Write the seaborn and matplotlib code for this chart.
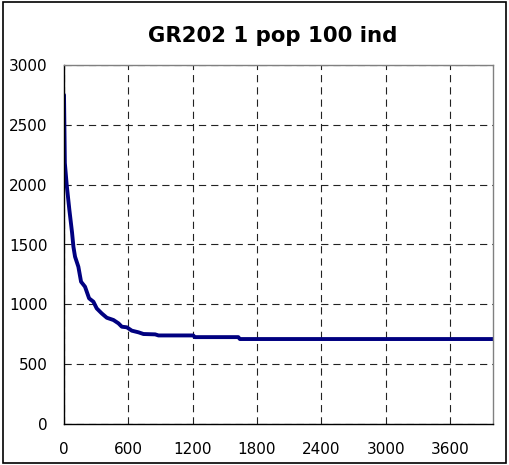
import matplotlib
matplotlib.use("Agg")
import matplotlib.pyplot as plt
import seaborn as sns
import pandas as pd
from matplotlib.patches import Rectangle

# Best fitness over evaluations
evaluations = [0, 8, 25, 50, 75, 88, 103, 134, 159, 196, 234, 274, 305, 352,
               399, 461, 508, 539, 586, 632, 695, 741, 850, 881, 1205, 1220,
               1625, 1640, 4000]
fitness = [2750, 2180, 2000, 1790, 1600, 1480, 1398, 1314, 1189, 1147, 1050,
           1022, 966, 924, 888, 869, 841, 813, 808, 780, 766, 752, 749, 740,
           740, 726, 726, 710, 710]

x_ticks = [0, 600, 1200, 1800, 2400, 3000, 3600]
y_ticks = [0, 500, 1000, 1500, 2000, 2500, 3000]
title = "GR202 1 pop 100 ind"

sns.set_style("white")
plt.rcParams["font.family"] = ["DejaVu Sans"]

df = pd.DataFrame({"evals": evaluations, "fitness": fitness})

fig = plt.figure(figsize=(5.10, 4.65), dpi=100)
ax = fig.add_axes([64 / 510, 1 - 424 / 465, (493 - 64) / 510, (424 - 65) / 465])

sns.lineplot(data=df, x="evals", y="fitness", ax=ax, color="#000080",
             linewidth=2.8, sort=False)

ax.set_xlim(0, 4000)
ax.set_ylim(0, 3000)
ax.set_xticks(x_ticks)
ax.set_yticks(y_ticks)
ax.set_xlabel("")
ax.set_ylabel("")

ax.grid(True, color="#222222", linestyle=(0, (6.5, 4.5)), linewidth=0.8)
ax.set_axisbelow(True)

for side in ("top", "right"):
    ax.spines[side].set_color("#808080")
    ax.spines[side].set_linewidth(1.0)
for side in ("left", "bottom"):
    ax.spines[side].set_color("#000000")
    ax.spines[side].set_linewidth(1.0)

ax.tick_params(axis="both", which="both", direction="out", length=5,
               width=1, color="#000000", labelsize=11, labelcolor="#000000")
ax.tick_params(axis="y", pad=7)
ax.tick_params(axis="x", pad=9, length=4)

fig.text(273 / 510, 1 - 36 / 465, title, ha="center", va="center",
         fontsize=15.3, fontweight="bold", color="#000000")

# outer chart frame
fig.patches.append(Rectangle((3 / 510, 2 / 465), 503 / 510, 461 / 465,
                             transform=fig.transFigure, fill=False,
                             edgecolor="#000000", linewidth=1.2))

fig.savefig("out.png", dpi=100)
